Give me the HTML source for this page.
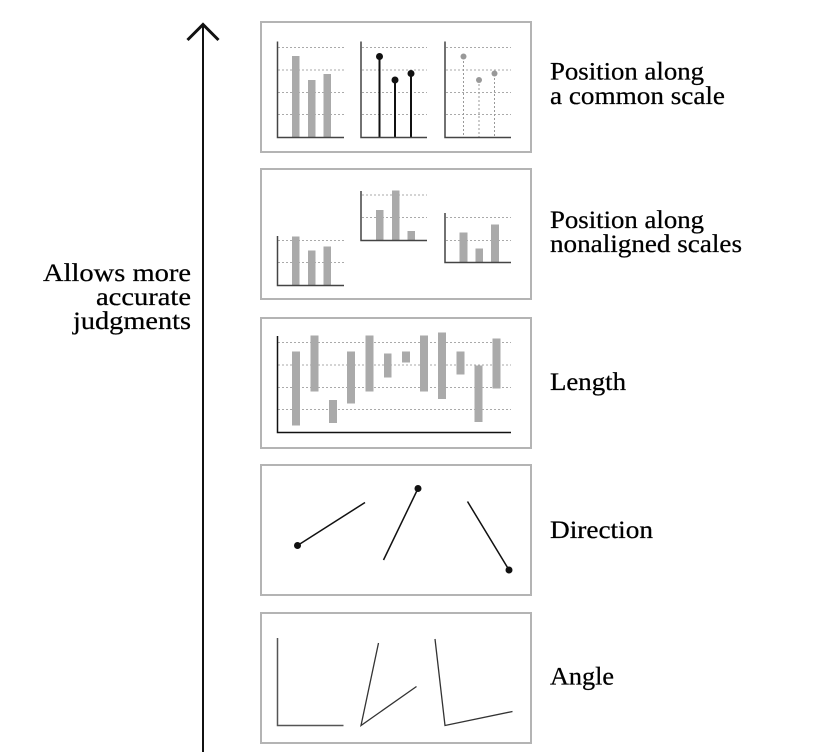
<!DOCTYPE html>
<html><head><meta charset="utf-8"><style>
html,body{margin:0;padding:0;background:#fff;}
svg{display:block;}
text{font-family:"Liberation Serif","Times New Roman",serif;fill:#000;stroke:#000;stroke-width:0.25px;}
</style></head><body>
<svg width="828" height="752" viewBox="0 0 828 752" xmlns="http://www.w3.org/2000/svg">
<!-- arrow -->
<line x1="203" y1="24" x2="203" y2="752" stroke="#111" stroke-width="2"/>
<polyline points="187.5,40 203,24.5 218.5,40" fill="none" stroke="#111" stroke-width="3"/>
<g font-size="25">
<text x="191" y="281" text-anchor="end" textLength="148" lengthAdjust="spacingAndGlyphs">Allows more</text>
<text x="191" y="305" text-anchor="end" textLength="95" lengthAdjust="spacingAndGlyphs">accurate</text>
<text x="191" y="329" text-anchor="end" textLength="118" lengthAdjust="spacingAndGlyphs">judgments</text>
</g>

<!-- boxes -->
<g fill="none" stroke="#b4b4b4" stroke-width="2">
<rect x="261" y="22" width="270" height="130"/>
<rect x="261" y="169" width="270" height="130"/>
<rect x="261" y="318" width="270" height="130"/>
<rect x="261" y="465" width="270" height="130"/>
<rect x="261" y="613" width="270" height="130"/>
</g>

<!-- Box 1 -->
<g stroke="#aaa" stroke-width="1" stroke-dasharray="2,2">
<line x1="278" y1="47.5" x2="344" y2="47.5"/><line x1="278" y1="70" x2="344" y2="70"/><line x1="278" y1="92.5" x2="344" y2="92.5"/><line x1="278" y1="114.5" x2="344" y2="114.5"/>
<line x1="362" y1="47.5" x2="427" y2="47.5"/><line x1="362" y1="70" x2="427" y2="70"/><line x1="362" y1="92.5" x2="427" y2="92.5"/><line x1="362" y1="114.5" x2="427" y2="114.5"/>
<line x1="446" y1="47.5" x2="511" y2="47.5"/><line x1="446" y1="70" x2="511" y2="70"/><line x1="446" y1="92.5" x2="511" y2="92.5"/><line x1="446" y1="114.5" x2="511" y2="114.5"/>
</g>
<g fill="#aaa">
<rect x="292" y="56" width="7.5" height="81"/>
<rect x="308" y="80" width="7.5" height="57"/>
<rect x="323.5" y="74" width="7.5" height="63"/>
</g>
<g stroke="#111" stroke-width="2">
<line x1="379.5" y1="56" x2="379.5" y2="137"/>
<line x1="395" y1="80" x2="395" y2="137"/>
<line x1="411" y1="74" x2="411" y2="137"/>
</g>
<g fill="#111"><circle cx="379.5" cy="56.5" r="3.5"/><circle cx="395" cy="80" r="3.5"/><circle cx="411" cy="73.5" r="3.5"/></g>
<g stroke="#999" stroke-width="1" stroke-dasharray="2,2">
<line x1="463.5" y1="57" x2="463.5" y2="137"/>
<line x1="479" y1="80" x2="479" y2="137"/>
<line x1="494.5" y1="74" x2="494.5" y2="137"/>
</g>
<g fill="#999"><circle cx="463.5" cy="56.5" r="3"/><circle cx="479" cy="80" r="3"/><circle cx="494.5" cy="73.5" r="3"/></g>
<g fill="none" stroke="#444" stroke-width="1.5">
<polyline points="277.5,41.5 277.5,137.5 344,137.5"/>
<polyline points="361,41.5 361,137.5 427,137.5"/>
<polyline points="445,41.5 445,137.5 511,137.5"/>
</g>

<!-- Box 2 -->
<g stroke="#aaa" stroke-width="1" stroke-dasharray="2,2">
<line x1="278" y1="240.5" x2="344" y2="240.5"/><line x1="278" y1="262.5" x2="344" y2="262.5"/>
<line x1="362" y1="195" x2="427" y2="195"/><line x1="362" y1="217.5" x2="427" y2="217.5"/>
<line x1="446" y1="217.5" x2="511" y2="217.5"/><line x1="446" y1="240.5" x2="511" y2="240.5"/>
</g>
<g fill="#aaa">
<rect x="292" y="236.5" width="7.5" height="49"/>
<rect x="308" y="250.5" width="7.5" height="35"/>
<rect x="323.5" y="246.5" width="7.5" height="39"/>
<rect x="376" y="210" width="7.5" height="30"/>
<rect x="392" y="190.5" width="7.5" height="49.5"/>
<rect x="407.5" y="231" width="7.5" height="9"/>
<rect x="459.5" y="232.5" width="8" height="30"/>
<rect x="475.5" y="248.5" width="7.5" height="14"/>
<rect x="491" y="224.5" width="8" height="38"/>
</g>
<g fill="none" stroke="#444" stroke-width="1.5">
<polyline points="277.5,236 277.5,285.5 344,285.5"/>
<polyline points="361,191 361,240.5 427,240.5"/>
<polyline points="445,213 445,262.5 511,262.5"/>
</g>

<!-- Box 3 -->
<g stroke="#aaa" stroke-width="1" stroke-dasharray="2,2">
<line x1="278" y1="342.5" x2="511" y2="342.5"/><line x1="278" y1="365" x2="511" y2="365"/><line x1="278" y1="387.5" x2="511" y2="387.5"/><line x1="278" y1="409.5" x2="511" y2="409.5"/>
</g>
<g fill="#aaa">
<rect x="292" y="351.5" width="8" height="74"/>
<rect x="310.5" y="335.5" width="8" height="56"/>
<rect x="329" y="400" width="8" height="23"/>
<rect x="347" y="351.5" width="8" height="52"/>
<rect x="365.5" y="335.5" width="8" height="56"/>
<rect x="384" y="353.5" width="7.5" height="24"/>
<rect x="402" y="351.5" width="8" height="11"/>
<rect x="420" y="335.5" width="8" height="56"/>
<rect x="438" y="332.5" width="8" height="66.5"/>
<rect x="456.5" y="351.5" width="8" height="23"/>
<rect x="474.5" y="365.5" width="8" height="56.5"/>
<rect x="492.5" y="338.5" width="8" height="50"/>
</g>
<g fill="none" stroke="#111" stroke-width="1.5">
<polyline points="277.5,336 277.5,432.5 511,432.5"/>
</g>

<!-- Box 4 -->
<g stroke="#111" stroke-width="1.5">
<line x1="297.5" y1="545.5" x2="365" y2="502.5"/>
<line x1="383.5" y1="560" x2="418" y2="488.5"/>
<line x1="467.5" y1="501.5" x2="509" y2="570"/>
</g>
<g fill="#111"><circle cx="297.5" cy="545.5" r="3.5"/><circle cx="418" cy="488.5" r="3.5"/><circle cx="509" cy="570" r="3.5"/></g>

<!-- Box 5 -->
<g fill="none" stroke="#333" stroke-width="1.3">
<polyline points="277.5,638 277.5,725.5 343.5,725.5" stroke="#555" stroke-width="1.5"/>
<polyline points="378.5,643 361,725.5 416.5,686.5"/>
<polyline points="435,639 445,725.5 512.5,711.5"/>
</g>

<!-- labels -->
<g font-size="25">
<text x="550" y="79.5" textLength="154" lengthAdjust="spacingAndGlyphs">Position along</text>
<text x="550" y="104" textLength="175" lengthAdjust="spacingAndGlyphs">a common scale</text>
<text x="550" y="228" textLength="154" lengthAdjust="spacingAndGlyphs">Position along</text>
<text x="550" y="252" textLength="192" lengthAdjust="spacingAndGlyphs">nonaligned scales</text>
<text x="550" y="390" textLength="76" lengthAdjust="spacingAndGlyphs">Length</text>
<text x="550" y="538" textLength="103" lengthAdjust="spacingAndGlyphs">Direction</text>
<text x="550" y="684.5" textLength="64" lengthAdjust="spacingAndGlyphs">Angle</text>
</g>
</svg>
</body></html>
